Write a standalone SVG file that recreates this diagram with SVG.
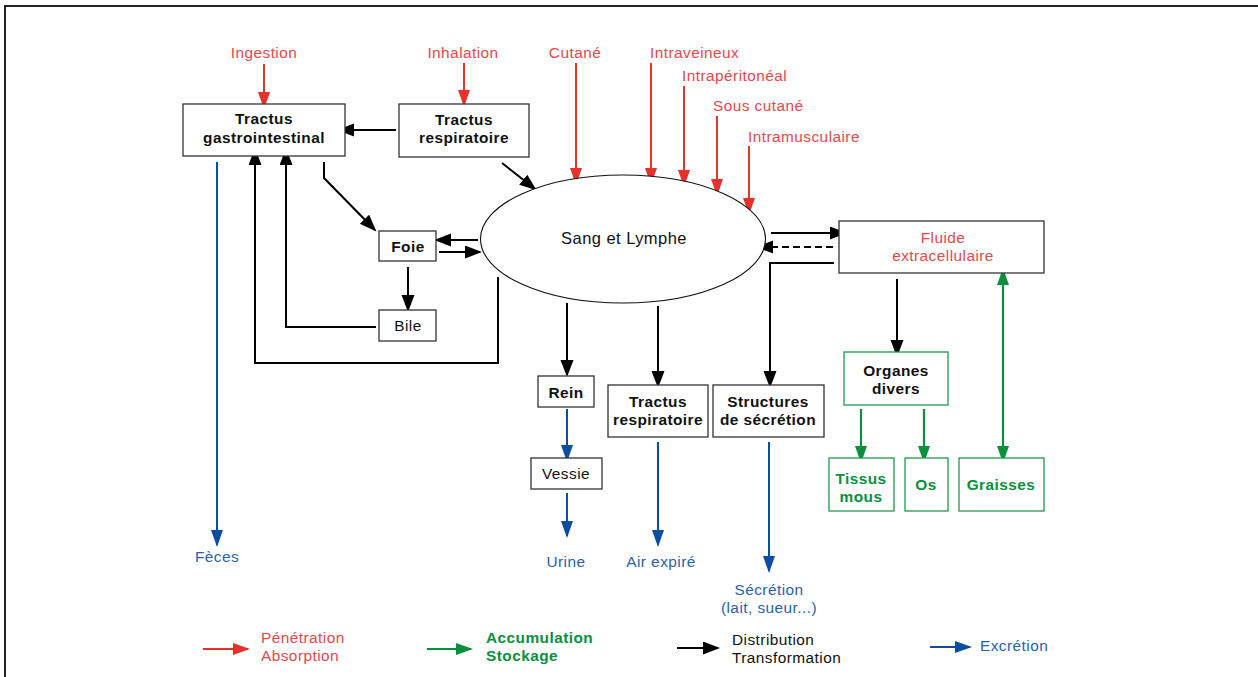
<svg xmlns="http://www.w3.org/2000/svg" width="1258" height="677" viewBox="0 0 1258 677">
<defs>
<style>
text{font-family:"Liberation Sans",Arial,sans-serif;font-size:15.4px;letter-spacing:0.45px}
.b{font-weight:bold}
.m{text-anchor:middle}
.tk{fill:#111}
.tr{fill:#e8484a}
.tg{fill:#0a8f3e}
.tb{fill:#2a5fae}
.box{fill:#fff;stroke:#333;stroke-width:1.3}
.gbox{fill:#fff;stroke:#1f9a4c;stroke-width:1.3}
.ck{fill:none;stroke:#000;stroke-width:2}
.cr{fill:none;stroke:#e5322b;stroke-width:2}
.cg{fill:none;stroke:#0a8f3e;stroke-width:2.2}
.cb{fill:none;stroke:#0d4d9f;stroke-width:2}
</style>
<marker id="ak" markerUnits="userSpaceOnUse" markerWidth="18" markerHeight="14" refX="15" refY="6.5" orient="auto"><path d="M0,0 L17,6.5 L0,13 z" fill="#000"/></marker>
<marker id="ar" markerUnits="userSpaceOnUse" markerWidth="18" markerHeight="14" refX="15" refY="6" orient="auto"><path d="M0,0 L17,6 L0,12 z" fill="#e5322b"/></marker>
<marker id="ag" markerUnits="userSpaceOnUse" markerWidth="18" markerHeight="14" refX="15" refY="6" orient="auto-start-reverse"><path d="M0,0 L17,6 L0,12 z" fill="#0a8f3e"/></marker>
<marker id="ab" markerUnits="userSpaceOnUse" markerWidth="18" markerHeight="14" refX="15" refY="6" orient="auto"><path d="M0,0 L17,6 L0,12 z" fill="#0d4d9f"/></marker>
</defs>
<rect width="1258" height="677" fill="#fff"/>
<path d="M5,677 V6 H1258" fill="none" stroke="#222" stroke-width="2"/>

<g id="connectors">
<line class="cr" x1="264" y1="64" x2="264" y2="107" marker-end="url(#ar)"/>
<line class="cr" x1="464" y1="63" x2="464" y2="105" marker-end="url(#ar)"/>
<line class="cr" x1="576" y1="63" x2="576" y2="183" marker-end="url(#ar)"/>
<line class="cr" x1="651" y1="63" x2="651" y2="183" marker-end="url(#ar)"/>
<line class="cr" x1="684" y1="86" x2="684" y2="185" marker-end="url(#ar)"/>
<line class="cr" x1="717" y1="116" x2="717" y2="194" marker-end="url(#ar)"/>
<line class="cr" x1="749" y1="146" x2="749" y2="213" marker-end="url(#ar)"/>
<line class="ck" x1="396" y1="130" x2="339" y2="130" marker-end="url(#ak)"/>
<line class="ck" x1="502" y1="163" x2="535" y2="189" marker-end="url(#ak)"/>
<path class="ck" d="M324,162 V178 L375,230" marker-end="url(#ak)"/>
<line class="ck" x1="478" y1="240" x2="436" y2="240" marker-end="url(#ak)"/>
<line class="ck" x1="439" y1="252" x2="480" y2="252" marker-end="url(#ak)"/>
<line class="ck" x1="408" y1="267" x2="408" y2="310" marker-end="url(#ak)"/>
<path class="ck" d="M376,327 H286 V150" marker-end="url(#ak)"/>
<path class="ck" d="M498,277 V363 H255 V150" marker-end="url(#ak)"/>
<line class="ck" x1="567" y1="303" x2="567" y2="375" marker-end="url(#ak)"/>
<line class="ck" x1="658" y1="306" x2="658" y2="386" marker-end="url(#ak)"/>
<path class="ck" d="M834,263 H770 V386" marker-end="url(#ak)"/>
<line class="ck" x1="771" y1="233" x2="845" y2="233" marker-end="url(#ak)"/>
<line class="ck" x1="833" y1="247" x2="758" y2="247" stroke-dasharray="7,4" marker-end="url(#ak)"/>
<line class="ck" x1="897" y1="279" x2="897" y2="355" marker-end="url(#ak)"/>
<line class="cg" x1="861" y1="409" x2="861" y2="461" marker-end="url(#ag)"/>
<line class="cg" x1="924" y1="409" x2="924" y2="461" marker-end="url(#ag)"/>
<line class="cg" x1="1003" y1="270" x2="1003" y2="461" marker-start="url(#ag)" marker-end="url(#ag)"/>
<line class="cb" x1="217" y1="162" x2="217" y2="545" marker-end="url(#ab)"/>
<line class="cb" x1="567" y1="409" x2="567" y2="460" marker-end="url(#ab)"/>
<line class="cb" x1="567" y1="493" x2="567" y2="536" marker-end="url(#ab)"/>
<line class="cb" x1="658" y1="442" x2="658" y2="545" marker-end="url(#ab)"/>
<line class="cb" x1="769" y1="442" x2="769" y2="571" marker-end="url(#ab)"/>
</g>

<g id="labels-entry">
<text class="tr m" x="264" y="58">Ingestion</text>
<text class="tr m" x="463" y="58">Inhalation</text>
<text class="tr m" x="575" y="58">Cutané</text>
<text class="tr" x="650" y="58">Intraveineux</text>
<text class="tr" x="682" y="81">Intrapéritonéal</text>
<text class="tr" x="713" y="111">Sous cutané</text>
<text class="tr" x="748" y="142">Intramusculaire</text>
</g>

<g id="sang">
<ellipse cx="623" cy="239" rx="142.5" ry="64" fill="#fff" stroke="#111" stroke-width="1.1"/>
<text class="tk m" x="624" y="244" style="font-size:16.5px">Sang et Lymphe</text>
</g>

<g id="gastro">
<rect class="box" x="183" y="104" width="162" height="52"/>
<text class="tk b m" x="264" y="124">Tractus<tspan x="264" dy="19">gastrointestinal</tspan></text>
</g>
<g id="resp-top">
<rect class="box" x="399" y="104" width="130" height="53"/>
<text class="tk b m" x="464" y="125">Tractus<tspan x="464" dy="18">respiratoire</tspan></text>
</g>
<g id="foie">
<rect class="box" x="379" y="231" width="57" height="30"/>
<text class="tk b m" x="408" y="252">Foie</text>
</g>
<g id="bile">
<rect class="box" x="379" y="310" width="57" height="31"/>
<text class="tk m" x="408" y="331">Bile</text>
</g>
<g id="fluide">
<rect class="box" x="839" y="221" width="205" height="52"/>
<text class="tr m" x="943" y="243">Fluide<tspan x="943" dy="18">extracellulaire</tspan></text>
</g>
<g id="rein">
<rect class="box" x="538" y="376" width="56" height="31"/>
<text class="tk b m" x="566" y="398">Rein</text>
</g>
<g id="vessie">
<rect class="box" x="531" y="458" width="71" height="31"/>
<text class="tk m" x="566" y="479">Vessie</text>
</g>
<g id="resp-bottom">
<rect class="box" x="608" y="385" width="100" height="52"/>
<text class="tk b m" x="658" y="407">Tractus<tspan x="658" dy="18">respiratoire</tspan></text>
</g>
<g id="structures">
<rect class="box" x="713" y="385" width="111" height="52"/>
<text class="tk b m" x="768" y="407">Structures<tspan x="768" dy="18">de sécrétion</tspan></text>
</g>
<g id="organes">
<rect class="gbox" x="844" y="352" width="104" height="53"/>
<text class="tk b m" x="896" y="376">Organes<tspan x="896" dy="18">divers</tspan></text>
</g>
<g id="tissus">
<rect class="gbox" x="829" y="458" width="65" height="53"/>
<text class="tg b m" x="861" y="484">Tissus<tspan x="861" dy="18">mous</tspan></text>
</g>
<g id="os">
<rect class="gbox" x="905" y="458" width="43" height="53"/>
<text class="tg b m" x="926" y="490">Os</text>
</g>
<g id="graisses">
<rect class="gbox" x="959" y="458" width="85" height="53"/>
<text class="tg b m" x="1001" y="490">Graisses</text>
</g>

<g id="labels-exit">
<text class="tb m" x="217" y="562">Fèces</text>
<text class="tb m" x="566" y="567">Urine</text>
<text class="tb m" x="661" y="567">Air expiré</text>
<text class="tb m" x="769" y="595">Sécrétion<tspan x="769" dy="18">(lait, sueur...)</tspan></text>
</g>

<g id="legend">
<line class="cr" x1="203" y1="649" x2="248" y2="649" marker-end="url(#ar)"/>
<text class="tr" x="261" y="643">Pénétration<tspan x="261" dy="18">Absorption</tspan></text>
<line class="cg" x1="427" y1="649" x2="471" y2="649" marker-end="url(#ag)"/>
<text class="tg b" x="486" y="643">Accumulation<tspan x="486" dy="18">Stockage</tspan></text>
<line class="ck" x1="677" y1="648" x2="718" y2="648" marker-end="url(#ak)"/>
<text class="tk" x="732" y="645">Distribution<tspan x="732" dy="18">Transformation</tspan></text>
<line class="cb" x1="930" y1="647" x2="970" y2="647" marker-end="url(#ab)"/>
<text class="tb" x="980" y="651">Excrétion</text>
</g>
</svg>
